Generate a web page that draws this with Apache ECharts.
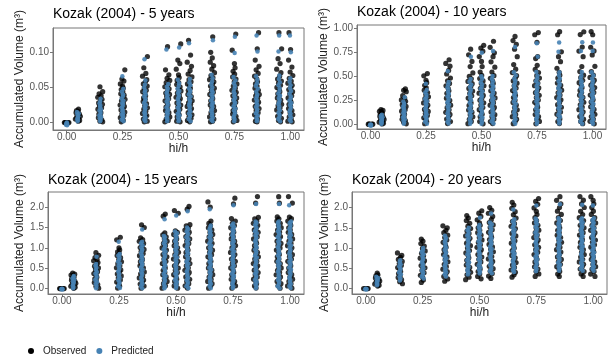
<!DOCTYPE html>
<html><head><meta charset="utf-8">
<script src="https://cdn.jsdelivr.net/npm/echarts@6/dist/echarts.min.js"></script>
<style>html,body{margin:0;padding:0;background:#fff}#c{width:614px;height:358px}</style>
</head><body><div id="c"></div>
<script>
// Relative height positions (hi/h) of the measurement columns
const HI = [0, 0.05, 0.15, 0.25, 0.35, 0.45, 0.5, 0.55, 0.65, 0.75, 0.85, 0.95, 1.0];
const X_TICKS = [0, 0.25, 0.5, 0.75, 1];
const Y_TICKS_5 = [0, 0.05, 0.10];
const Y_TICKS_10 = [0, 0.25, 0.5, 0.75, 1.0];
const Y_TICKS_15 = [0, 0.5, 1.0, 1.5, 2.0];
const Y_TICKS_20 = [0, 0.5, 1.0, 1.5, 2.0];
const TITLES = ["Kozak (2004) - 5 years", "Kozak (2004) - 10 years", "Kozak (2004) - 15 years", "Kozak (2004) - 20 years"];
const LEGEND = ["Observed", "Predicted"];
// horizontal jitter offsets (in hi/h units)
const JITTER_OBS = [-0.010, 0.006, -0.003, 0.010, -0.007, 0.002, 0.008, -0.011, 0.004, -0.005, 0.011, -0.001, 0.007, -0.008, 0.001, -0.006, 0.003, 0.0];
const JITTER_PRED = [0.002, -0.003, 0.003, -0.001, 0.001, -0.003, 0.0, 0.002, -0.002, 0.004, -0.004, 0.001];

// Accumulated volumes in dm3 (1/1000 m3), one list per hi/h column
const obs5 = [
 [0,0,0,0,0],
 [2,3,5,6,8,9,11,12,14,16,17,19],
 [1,2,4,7,9,12,14,16,19,21,24,26,28,31,33,36,38,41,44,51],
 [1,3,4,7,10,12,15,18,20,23,25,28,31,33,36,39,41,44,47,49,52,55,59,62,75],
 [1,2,5,8,10,13,16,19,21,24,27,30,33,35,38,41,44,46,49,52,55,58,61,66,70,78,94],
 [1,3,5,8,11,14,17,19,22,25,28,31,34,37,40,42,45,48,51,54,57,60,63,68,75,108],
 [1,2,5,8,11,14,16,19,22,25,28,31,34,36,39,42,45,48,51,54,57,60,64,68,76,84,89,112],
 [1,3,6,8,11,14,17,20,23,26,28,31,34,37,40,43,46,49,52,55,58,61,65,69,74,80,86,96,117],
 [1,2,5,8,11,14,17,20,23,25,28,31,34,37,40,43,46,49,52,55,58,61,64,67,71,76,81,86,92,100,122],
 [1,3,6,9,12,14,17,20,23,26,29,32,35,38,41,43,46,49,52,55,58,62,65,69,73,78,84,103,126],
 [1,2,5,8,11,14,17,20,23,26,29,32,35,38,40,43,46,49,52,55,58,62,66,70,75,80,89,105,128],
 [1,3,6,9,12,15,18,21,24,26,29,32,35,38,41,44,47,50,53,56,59,62,66,71,76,84,91,105,128],
 [1,2,5,8,11,14,17,20,23,26,29,32,35,38,41,44,47,50,53,56,59,63,67,72,79,89,104,128]
];
const pred5 = [
 [-4,-3,-2,-1,0],
 [2,4,5,7,9,11,13,15],
 [2,4,6,8,10,12,15,17,19,22,24,27,30,34],
 [2,4,6,9,11,13,16,18,21,23,26,28,31,34,37,40,44,48,66],
 [2,4,7,9,12,14,17,20,22,25,28,31,34,37,40,43,46,50,54,60,90],
 [2,5,7,10,13,15,18,21,24,27,30,33,36,39,42,45,48,51,55,104],
 [2,4,7,10,12,15,18,21,24,27,30,33,36,39,42,45,48,52,56,61,107],
 [2,5,8,10,13,16,19,22,25,28,31,34,37,40,43,46,49,53,57,62,113],
 [2,4,7,10,13,16,19,22,25,28,31,34,37,40,43,46,50,54,58,63,68,117],
 [2,5,8,11,14,17,20,23,26,29,32,35,38,41,44,48,52,56,60,65,99,122],
 [2,4,7,10,13,16,19,22,25,28,31,34,37,40,44,48,52,56,61,66,101,124],
 [2,5,8,11,14,17,20,23,26,29,32,35,38,41,45,49,53,57,62,67,101,124],
 [2,4,7,10,13,16,19,22,25,28,31,34,37,41,45,49,53,58,63,100,124]
];
const obs10 = [
 [0,0,0,0,0],
 [2,11,21,29,40,49,61,70,81,90,103,112,125,134,143,151],
 [4,19,37,51,69,84,102,117,135,150,169,184,203,218,237,252,271,296,338,352,366],
 [5,25,48,67,91,110,133,153,177,197,221,241,265,285,309,329,353,377,404,431,456,502,526],
 [6,27,53,75,101,123,149,171,197,220,247,270,297,320,347,371,399,423,451,479,521,558,602,631,669],
 [5,29,51,77,99,125,147,173,195,221,244,271,294,321,344,371,394,421,444,471,496,532,598,652,721,779],
 [4,28,54,76,102,125,151,173,199,222,249,272,299,322,349,372,399,422,449,474,506,541,598,652,702,758,791,819],
 [6,27,53,77,99,126,148,174,197,223,246,273,296,323,346,373,396,423,447,476,504,541,592,648,701,742,798,861],
 [5,30,52,78,100,127,149,176,199,226,249,276,299,326,349,376,399,426,449,478,504,536,571,619,701,779,829,868,911],
 [4,29,51,78,100,127,150,177,200,227,250,277,300,327,350,377,400,427,451,479,504,536,569,611,681,702,851,929,951],
 [6,28,55,77,104,126,153,176,203,226,253,276,303,326,353,376,403,427,455,479,509,539,581,649,701,751,929,961],
 [5,29,52,79,101,128,151,178,201,228,251,278,301,328,351,379,403,431,455,483,509,546,599,701,759,801,931,959],
 [4,30,53,80,103,130,153,180,203,230,253,280,303,330,353,381,405,433,457,486,511,546,601,719,761,799,929,962]
];
const pred10 = [
 [-15,-11,-6,-2],
 [3,15,24,38,47,61,71,86,97],
 [5,19,37,51,69,83,101,115,133,147,165,179,197,213,236,281],
 [4,25,43,64,81,102,119,141,159,181,199,221,239,261,281,306,329,356,421],
 [6,25,49,69,93,113,137,157,181,201,225,245,269,289,314,335,361,384,411,439,551],
 [4,27,47,71,91,115,135,159,179,203,223,247,267,291,312,337,359,386,409,441,469,701],
 [5,26,50,70,94,114,138,158,182,202,226,246,271,292,317,339,365,387,414,439,471,499,741],
 [6,28,48,72,92,116,136,160,180,204,224,248,269,294,315,341,363,389,412,441,469,501,759],
 [4,28,49,74,95,120,141,166,187,212,233,258,279,304,325,351,373,399,421,448,473,506,539,801],
 [5,26,51,72,97,118,143,164,189,210,235,256,281,302,327,349,375,397,423,446,475,504,541,699,841],
 [6,28,49,74,95,120,141,166,187,212,233,258,279,304,325,351,373,399,421,448,473,506,539,751,849],
 [4,27,51,72,97,118,143,164,189,210,235,256,281,302,327,349,375,397,423,446,475,504,541,761,851],
 [5,28,49,74,95,120,141,166,187,212,233,258,279,304,325,351,373,399,421,448,473,506,539,759,849]
];
const obs15 = [
 [0,0,0,0,0],
 [5,29,56,79,106,129,156,179,206,229,256,279,302,331,354,381],
 [9,56,99,146,189,236,279,326,369,416,459,506,549,596,639,681,719,762,818,881],
 [11,59,111,159,211,259,311,359,411,459,511,559,611,659,711,759,811,859,901,949,1001,1199,1261],
 [8,61,109,161,209,261,309,361,409,461,509,561,609,661,709,761,809,861,909,961,1009,1061,1109,1161,1201,1249,1501,1569],
 [10,66,119,176,229,286,339,396,449,506,559,616,669,726,779,836,889,946,999,1056,1109,1166,1219,1271,1319,1371,1779,1831],
 [9,64,121,174,231,284,341,394,451,504,561,614,671,724,781,834,891,944,1001,1054,1111,1164,1221,1274,1331,1379,1421,1851,1919],
 [11,66,119,176,229,286,339,396,449,506,559,616,669,726,779,836,889,946,999,1056,1109,1166,1219,1276,1329,1386,1439,1491,1541,1571,1951,2019],
 [9,64,121,174,231,284,341,394,451,504,561,614,671,724,781,834,891,944,1001,1054,1111,1164,1221,1274,1331,1384,1441,1494,1551,1601,1661,2001,2131],
 [10,66,119,176,229,286,339,396,449,506,559,616,669,726,779,836,889,946,999,1056,1109,1166,1219,1276,1329,1386,1439,1496,1549,1606,1661,1721,2081,2221],
 [11,64,121,174,231,284,341,394,451,504,561,614,671,724,781,834,891,944,1001,1054,1111,1164,1221,1274,1331,1384,1441,1494,1551,1604,1661,1711,1751,2101,2261],
 [9,66,119,176,229,286,339,396,449,506,559,616,669,726,779,836,889,946,999,1056,1109,1166,1219,1276,1329,1386,1439,1496,1549,1606,1659,1716,1761,2099,2259],
 [10,64,121,174,231,284,341,394,451,504,561,614,671,724,781,834,891,944,1001,1054,1111,1164,1221,1274,1331,1384,1441,1494,1551,1604,1661,1719,1759,2101,2261]
];
const pred15 = [
 [-21,-16,-10,-4],
 [6,39,76,109,146,179,216,249,286,309],
 [9,61,109,161,209,261,309,361,409,461,509,561,601,779],
 [11,59,111,159,211,259,311,359,411,459,511,559,611,659,711,759,811,849,1151],
 [9,61,109,161,209,261,309,361,409,461,509,561,611,659,711,761,809,861,909,961,1011,1059,1109,1149,1451],
 [10,59,111,159,211,259,311,359,411,459,511,559,611,659,711,761,809,861,909,961,1011,1059,1111,1159,1211,1259,1301,1701],
 [11,61,109,161,209,261,309,361,409,461,509,561,609,661,709,761,809,861,909,961,1009,1061,1109,1161,1209,1261,1309,1359,1401,1799],
 [9,59,111,159,211,259,311,359,411,459,511,559,611,659,711,759,811,859,911,959,1011,1059,1111,1159,1211,1259,1311,1359,1411,1459,1501,1901],
 [10,61,109,161,209,261,309,361,409,461,509,561,609,661,709,761,809,861,909,961,1009,1061,1109,1161,1209,1261,1309,1361,1409,1461,1509,1549,1951],
 [11,59,111,159,211,259,311,359,411,459,511,559,611,659,711,759,811,859,911,959,1011,1059,1111,1159,1211,1259,1311,1359,1411,1459,1511,1559,1601,2051],
 [9,61,109,161,209,261,309,361,409,461,509,561,609,661,709,761,809,861,909,961,1009,1061,1109,1161,1209,1261,1309,1361,1409,1461,1509,1561,1609,1651,2079],
 [10,59,111,159,211,259,311,359,411,459,511,559,611,659,711,759,811,859,911,959,1011,1059,1111,1159,1211,1259,1311,1359,1411,1459,1511,1559,1611,1649,2081],
 [11,61,109,161,209,261,309,361,409,461,509,561,609,661,709,761,809,861,909,961,1009,1061,1109,1161,1209,1261,1309,1361,1409,1461,1509,1561,1609,1651,2049]
];
const obs20 = [
 [0,0,0,0],
 [61,84,111,134,161,184,211,234,261,284,311,341,379],
 [119,171,219,271,319,371,419,471,519,571,619,671,719,771,819,879],
 [151,209,271,329,391,449,511,569,631,689,751,809,871,929,991,1049,1111,1169,1221],
 [181,239,301,359,421,479,541,599,661,719,781,839,901,959,1021,1079,1141,1199,1261,1319,1381,1439,1501,1549],
 [219,281,339,401,459,521,579,641,699,761,819,881,939,1001,1059,1121,1179,1241,1299,1361,1419,1481,1541,1611,1679,1741,1801],
 [241,299,361,419,481,539,601,659,721,779,841,899,961,1019,1081,1139,1201,1259,1321,1379,1441,1499,1561,1621,1699,1781,1861,1921],
 [251,309,371,429,491,549,611,669,731,789,851,909,971,1029,1091,1149,1211,1269,1331,1389,1451,1509,1571,1631,1701,1781,1859,1931,2001],
 [281,339,401,459,521,579,641,699,761,819,881,939,1001,1059,1121,1179,1241,1299,1361,1419,1481,1539,1601,1661,1741,1821,1899,1981,2061,2131],
 [299,361,419,481,539,601,659,721,779,841,899,961,1019,1081,1139,1201,1259,1321,1379,1441,1499,1561,1621,1681,1749,1829,1909,1991,2079,2151,2221],
 [301,359,421,479,541,599,661,719,781,839,901,959,1021,1079,1141,1199,1261,1319,1381,1439,1501,1559,1621,1679,1749,1831,1911,1999,2091,2179,2269],
 [299,361,419,481,539,601,659,721,779,841,899,961,1019,1081,1139,1201,1259,1321,1379,1441,1499,1561,1619,1681,1751,1829,1909,2001,2089,2181,2271],
 [301,359,421,479,541,599,661,719,781,839,901,959,1021,1079,1141,1199,1261,1319,1381,1439,1501,1559,1621,1681,1749,1831,1911,1999,2091,2179,2269]
];
const pred20 = [
 [-21,-15,-9,-4],
 [79,111,139,171,199,231,259,291],
 [199,251,299,351,399,451,499,551,599,651,699],
 [249,301,349,401,449,501,549,601,649,701,749,801,849,901,949,1001],
 [299,351,399,451,499,551,599,651,699,751,799,851,899,951,999,1051,1099,1151,1199,1251,1301],
 [349,401,449,501,549,601,649,701,749,801,849,901,949,1001,1049,1101,1149,1201,1249,1301,1349,1401,1449,1501],
 [369,421,469,521,569,621,669,721,769,821,869,921,969,1021,1069,1121,1169,1221,1269,1321,1369,1421,1469,1521,1569,1751],
 [379,431,479,531,579,631,679,731,779,831,879,931,979,1031,1079,1131,1179,1231,1279,1331,1379,1431,1479,1531,1579,1631,1851],
 [409,461,509,561,609,661,709,761,809,861,909,961,1009,1061,1109,1161,1209,1261,1309,1361,1409,1461,1509,1561,1609,1661,1709,1951],
 [429,481,529,581,629,681,729,781,829,881,929,981,1029,1081,1129,1181,1229,1281,1329,1381,1429,1481,1529,1581,1629,1681,1729,2051],
 [439,491,539,591,639,691,739,791,839,891,939,991,1039,1091,1139,1191,1239,1291,1339,1391,1439,1491,1539,1591,1639,1691,1739,2081],
 [439,491,539,591,639,691,739,791,839,891,939,991,1039,1091,1139,1191,1239,1291,1339,1391,1439,1491,1539,1591,1639,1691,1739,2071],
 [439,491,539,591,639,691,739,791,839,891,939,991,1039,1091,1139,1191,1239,1291,1339,1391,1439,1491,1539,1591,1639,1691,1739,2051]
];

// ---------- build ----------
function toPoints(cols, jit, shift) {
  const pts = [];
  cols.forEach((vals, j) => {
    vals.forEach((v, i) => {
      pts.push([HI[j] + jit[(i + j * shift) % jit.length], v / 1000]);
    });
  });
  return pts;
}
const FONT = 'Liberation Sans, Arial, sans-serif';
const panels = [
  {obs: obs5, pred: pred5, yt: Y_TICKS_5, dec: 2, grid: {left: 53, top: 28, width: 251, height: 102}, ymin: -0.0106, ymax: 0.1346, gap: 26, titleTop: 7},
  {obs: obs10, pred: pred10, yt: Y_TICKS_10, dec: 2, grid: {left: 357, top: 25, width: 249, height: 104}, ymin: -0.05, ymax: 1.03, gap: 26, titleTop: 5},
  {obs: obs15, pred: pred15, yt: Y_TICKS_15, dec: 1, grid: {left: 48, top: 192, width: 256, height: 102}, ymin: -0.134, ymax: 2.374, gap: 22, titleTop: 173},
  {obs: obs20, pred: pred20, yt: Y_TICKS_20, dec: 1, grid: {left: 352, top: 192, width: 255, height: 102}, ymin: -0.134, ymax: 2.384, gap: 21, titleTop: 173}
];
const BORDER = '#777';
const option = {
  animation: false,
  backgroundColor: '#fff',
  title: panels.map((p, k) => ({
    text: TITLES[k], left: p.grid.left, top: p.titleTop, padding: 0,
    textStyle: {fontFamily: FONT, fontSize: 14, fontWeight: 'normal', color: '#000'}
  })),
  legend: {
    left: 23, top: 341, itemWidth: 14, itemHeight: 6, itemGap: 10, icon: 'circle',
    textStyle: {fontFamily: FONT, fontSize: 10, color: '#222'},
    data: [
      {name: LEGEND[0], itemStyle: {color: '#000', opacity: 1}},
      {name: LEGEND[1], itemStyle: {color: '#4682b4', opacity: 1}}
    ]
  },
  grid: panels.map(p => Object.assign({show: true, borderColor: BORDER, borderWidth: 1, backgroundColor: 'transparent'}, p.grid)),
  xAxis: panels.map((p, k) => ({
    type: 'value', gridIndex: k, min: -0.061, max: 1.061,
    name: 'hi/h', nameLocation: 'middle', nameGap: 13,
    nameTextStyle: {fontFamily: FONT, fontSize: 12, color: '#222'},
    axisLine: {show: true, onZero: false, lineStyle: {color: BORDER, width: 1}}, splitLine: {show: false},
    axisTick: {show: true, length: 3, lineStyle: {color: BORDER}, customValues: X_TICKS},
    axisLabel: {fontFamily: FONT, fontSize: 10, color: '#555', margin: 2, customValues: X_TICKS,
      formatter: v => v.toFixed(2)}
  })),
  yAxis: panels.map((p, k) => ({
    type: 'value', gridIndex: k, min: p.ymin, max: p.ymax,
    name: 'Accumulated Volume (m³)', nameLocation: 'middle', nameGap: p.gap,
    nameTextStyle: {fontFamily: FONT, fontSize: 12, color: '#222'},
    axisLine: {show: true, onZero: false, lineStyle: {color: BORDER, width: 1}}, splitLine: {show: false},
    axisTick: {show: true, length: 3, lineStyle: {color: BORDER}, customValues: p.yt},
    axisLabel: {fontFamily: FONT, fontSize: 10, color: '#555', margin: 4, customValues: p.yt,
      formatter: v => v.toFixed(p.dec)}
  })),
  series: []
};
panels.forEach((p, k) => {
  option.series.push({
    name: LEGEND[0], type: 'scatter', xAxisIndex: k, yAxisIndex: k, symbolSize: 5.2, silent: true,
    itemStyle: {color: '#000'}, data: toPoints(p.obs, JITTER_OBS, 5)
  });
});
panels.forEach((p, k) => {
  option.series.push({
    name: LEGEND[1], type: 'scatter', xAxisIndex: k, yAxisIndex: k, symbolSize: 4.5, silent: true,
    itemStyle: {color: '#4682b4', opacity: 0.9}, data: toPoints(p.pred, JITTER_PRED, 3)
  });
});
const chart = echarts.init(document.getElementById('c'), null, {renderer: 'canvas'});
chart.setOption(option);
</script>
</body></html>
